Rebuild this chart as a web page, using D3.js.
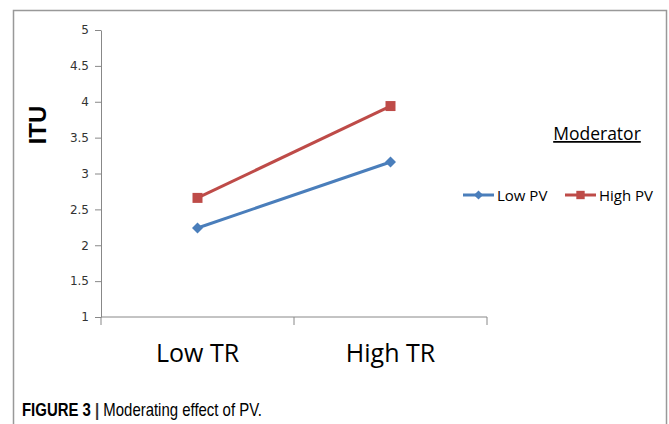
<!DOCTYPE html>
<html lang="en">
<head>
    <meta charset="UTF-8">
    <title>Moderating effect of PV</title>
    <script src="https://d3js.org/d3.v7.min.js"></script>
    <style>
        body { margin: 0; background: white; }
        svg { display: block; }
        .tick text { font-family: "DejaVu Sans", sans-serif; font-size: 12px; fill: #333; }
        .axis path, .axis line { stroke: #888; }
    </style>
</head>
<body>
    <div id="chart"></div>
    <script>
        // data
        const categories = ["Low TR", "High TR"];
        const seriesNames = ["Low PV", "High PV"];
        const lowPV = [2.24, 3.16];
        const highPV = [2.66, 3.94];
        const yTicks = [1, 1.5, 2, 2.5, 3, 3.5, 4, 4.5, 5];
        const colors = ["#4a7ebb", "#be4b48"];

        const W = 669, H = 424;
        const margin = {top: 30, left: 101};
        const width = 386, height = 287;

        const svg = d3.select("#chart").append("svg")
            .attr("width", W).attr("height", H);

        // outer frame
        svg.append("rect")
            .attr("x", 13.5).attr("y", 10.5)
            .attr("width", 653).attr("height", 420)
            .attr("fill", "none").attr("stroke", "#999").attr("stroke-width", 1.5);

        const g = svg.append("g")
            .attr("transform", "translate(" + margin.left + "," + margin.top + ")");

        const x = d3.scaleBand().domain(categories).range([0, width]);
        const y = d3.scaleLinear().domain([1, 5]).range([height, 0]);

        // markers: diamond = square turned 45deg
        const marker = (s, size) => s === 0
            ? d3.symbol(d3.symbolSquare, size * 0.6)()
            : d3.symbol(d3.symbolSquare, size)();
        const rot = s => s === 0 ? " rotate(45)" : "";

        // y axis
        g.append("g").attr("class", "axis")
            .call(d3.axisLeft(y).tickValues(yTicks).tickSize(6).tickSizeOuter(0).tickPadding(6)
                .tickFormat(d3.format("")));

        // x axis, ticks between categories
        const xa = g.append("g").attr("class", "axis")
            .attr("transform", "translate(0," + height + ")");
        xa.append("line").attr("x1", 0).attr("x2", width).attr("stroke", "#888");
        xa.selectAll(".xt").data([0, 1, 2]).join("line")
            .attr("x1", d => d * x.bandwidth()).attr("x2", d => d * x.bandwidth())
            .attr("y1", 0).attr("y2", 8).attr("stroke", "#888");
        xa.selectAll(".xl").data(categories).join("text")
            .attr("x", d => x(d) + x.bandwidth() / 2)
            .attr("y", 45)
            .attr("text-anchor", "middle")
            .attr("font-family", "Open Sans, sans-serif")
            .attr("font-size", 25)
            .attr("fill", "#000")
            .text(d => d);

        // y title
        svg.append("text")
            .attr("transform", "translate(46,125) rotate(-90)")
            .attr("text-anchor", "middle")
            .attr("font-family", "Liberation Sans, Arial, sans-serif")
            .attr("font-weight", "bold")
            .attr("font-size", 24)
            .text("ITU");

        const line = d3.line()
            .x((d, i) => x(categories[i]) + x.bandwidth() / 2)
            .y(d => y(d));

        const series = [lowPV, highPV];
        series.forEach((vals, s) => {
            g.append("path").datum(vals)
                .attr("d", line)
                .attr("fill", "none")
                .attr("stroke", colors[s])
                .attr("stroke-width", 3);
            g.selectAll(".m" + s).data(vals).join("path")
                .attr("transform", (d, i) => "translate(" + (x(categories[i]) + x.bandwidth() / 2) + "," + y(d) + ")" + rot(s))
                .attr("d", marker(s, 100))
                .attr("fill", colors[s]);
        });

        // legend
        svg.append("text")
            .attr("x", 597).attr("y", 140)
            .attr("text-anchor", "middle")
            .attr("font-family", "Open Sans, sans-serif")
            .attr("font-size", 17.5)
            .attr("text-decoration", "underline")
            .text("Moderator");

        const legendX = [463, 565];
        seriesNames.forEach((name, s) => {
            const lg = svg.append("g").attr("transform", "translate(" + legendX[s] + ",195)");
            lg.append("line").attr("x1", 0).attr("x2", 31)
                .attr("stroke", colors[s]).attr("stroke-width", 3);
            lg.append("path")
                .attr("transform", "translate(15.5,0)" + rot(s))
                .attr("d", marker(s, 70))
                .attr("fill", colors[s]);
            lg.append("text")
                .attr("x", 34).attr("y", 5.5)
                .attr("font-family", "Open Sans, sans-serif")
                .attr("font-size", 15)
                .text(name);
        });

        // caption (narrow face imitated with a horizontal squeeze)
        const cap = svg.append("text")
            .attr("transform", "translate(22,416) scale(0.83,1)")
            .attr("font-family", "Liberation Sans, Arial, sans-serif")
            .attr("font-size", 18);
        cap.append("tspan").attr("font-weight", "bold").text("FIGURE 3");
        cap.append("tspan").attr("fill", "#333").attr("font-weight", "bold").text(" | ");
        cap.append("tspan").text("Moderating effect of PV.");
    </script>
</body>
</html>
